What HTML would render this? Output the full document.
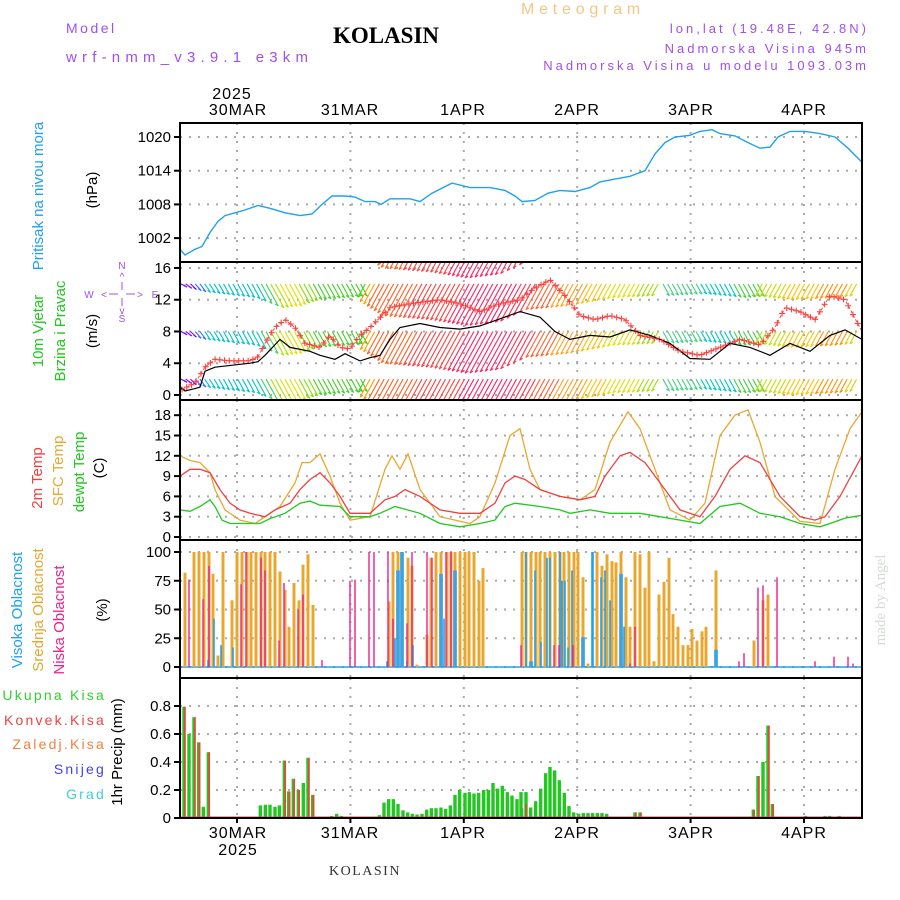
<!DOCTYPE html>
<html><head><meta charset="utf-8"><style>
html,body{margin:0;padding:0;background:#fff;}
svg{display:block;font-family:"Liberation Sans",sans-serif;}
</style></head><body>
<svg id="s" width="900" height="900" xmlns="http://www.w3.org/2000/svg">
<defs>
<clipPath id="c1"><rect x="180" y="123" width="682" height="139"/></clipPath>
<clipPath id="c2"><rect x="180" y="262" width="682" height="138"/></clipPath>
<clipPath id="c3"><rect x="180" y="400" width="682" height="140"/></clipPath>
</defs>
<g id="grid"></g>
<g id="data"></g>
<g fill="none" stroke="#000" stroke-width="2">
<rect x="180" y="123" width="682" height="695"/>
<line x1="180" y1="262" x2="862" y2="262"/>
<line x1="180" y1="400" x2="862" y2="400"/>
<line x1="180" y1="540" x2="862" y2="540"/>
<line x1="180" y1="678" x2="862" y2="678"/>
</g>
<g id="ticks" font-size="15" text-anchor="end"></g>
<!-- header -->
<text x="66" y="33" fill="#a050e8" font-size="14" letter-spacing="2.5">Model</text>
<text x="66" y="62" fill="#a050e8" font-size="15" letter-spacing="5.2">wrf-nmm_v3.9.1 e3km</text>
<text x="386" y="43" font-family="Liberation Serif,serif" font-weight="bold" font-size="23" text-anchor="middle">KOLASIN</text>
<text x="583" y="14" fill="#f0c888" font-size="16" text-anchor="middle" letter-spacing="4.8">Meteogram</text>
<g fill="#a050e8" font-size="13" text-anchor="end" letter-spacing="3">
<text x="869" y="33">lon,lat (19.48E, 42.8N)</text>
<text x="869" y="53">Nadmorska Visina 945m</text>
<text x="869" y="70">Nadmorska Visina u modelu 1093.03m</text>
</g>
<g font-size="16" text-anchor="middle" letter-spacing="1">
<text x="232" y="99">2025</text>
<text x="238" y="115">30MAR</text><text x="350" y="115">31MAR</text><text x="463" y="115">1APR</text><text x="577" y="115">2APR</text><text x="691" y="115">3APR</text><text x="804" y="115">4APR</text>
<text x="238" y="838">30MAR</text><text x="350" y="838">31MAR</text><text x="463" y="838">1APR</text><text x="577" y="838">2APR</text><text x="691" y="838">3APR</text><text x="804" y="838">4APR</text>
<text x="238" y="855">2025</text>
</g>
<text x="365" y="875" font-family="Liberation Serif,serif" font-size="14" fill="#333" text-anchor="middle" letter-spacing="1.5">KOLASIN</text>
<text transform="translate(885,600) rotate(-90)" font-family="Liberation Serif,serif" font-size="15" fill="#d4dcd4" text-anchor="middle">made by Angel</text>
<!-- y labels -->
<g font-size="15" text-anchor="middle">
<text transform="translate(43,196) rotate(-90)" fill="#20a0f0">Pritisak na nivou mora</text>
<text transform="translate(97,190) rotate(-90)">(hPa)</text>
<text transform="translate(43,331) rotate(-90)" fill="#20c820">10m Vjetar</text>
<text transform="translate(65,331) rotate(-90)" fill="#20c820">Brzina i Pravac</text>
<text transform="translate(97,331) rotate(-90)">(m/s)</text>
<text transform="translate(42,478) rotate(-90)" fill="#f04040">2m Temp</text>
<text transform="translate(63,471) rotate(-90)" fill="#e8a830">SFC Temp</text>
<text transform="translate(84,472) rotate(-90)" fill="#20c820">dewpt Temp</text>
<text transform="translate(104,468) rotate(-90)">(C)</text>
<text transform="translate(22,610) rotate(-90)" fill="#20a0f0">Visoka Oblacnost</text>
<text transform="translate(43,610) rotate(-90)" fill="#e8a830">Srednja Oblacnost</text>
<text transform="translate(64,620) rotate(-90)" fill="#f0208a">Niska Oblacnost</text>
<text transform="translate(107,610) rotate(-90)">(%)</text>
<text transform="translate(122,752) rotate(-90)">1hr Precip (mm)</text>
</g>
<g font-size="14" text-anchor="end" letter-spacing="2.2">
<text x="106" y="700" fill="#30d030">Ukupna Kisa</text>
<text x="106" y="725" fill="#f04040">Konvek.Kisa</text>
<text x="106" y="749" fill="#f08040">Zaledj.Kisa</text>
<text x="106" y="774" fill="#4040f0">Snijeg</text>
<text x="106" y="799" fill="#40d0d0">Grad</text>
</g>
<!-- compass -->
<g fill="#a050e8" font-size="10" text-anchor="middle" stroke="none">
<text x="122" y="269">N</text><text x="122" y="322">S</text><text x="89" y="298">W</text><text x="155" y="298">E</text>
<text x="122" y="280">^</text><text x="122" y="314">v</text><text x="104" y="298">&lt;</text><text x="140" y="298">&gt;</text>
</g>
<g stroke="#a050e8" stroke-width="1"><line x1="122" y1="282" x2="122" y2="290"/><line x1="122" y1="298" x2="122" y2="306"/><line x1="109" y1="294" x2="118" y2="294"/><line x1="126" y1="294" x2="135" y2="294"/></g>
</svg>
<script>
var NS="http://www.w3.org/2000/svg";
function el(p,t,a){var e=document.createElementNS(NS,t);for(var k in a)e.setAttribute(k,a[k]);p.appendChild(e);return e;}
var G=document.getElementById('grid'),D=document.getElementById('data'),T=document.getElementById('ticks');
var days=[237,350.4,463.8,577.2,690.6,804];
var gs={stroke:"#aaa","stroke-width":2,"stroke-dasharray":"2,7"};
days.forEach(function(x){[[123,262],[262,400],[400,540],[540,678],[678,818]].forEach(function(r){var a=Object.assign({x1:x,x2:x,y1:r[0],y2:r[1]},gs);el(G,'line',a);});el(T,'line',{x1:x,x2:x,y1:818,y2:823,stroke:"#000","stroke-width":2});});
function hg(y,lab){var a=Object.assign({x1:180,x2:862,y1:y,y2:y},gs);el(G,'line',a);el(T,'line',{x1:174,x2:180,y1:y,y2:y,stroke:"#000","stroke-width":2});var t=el(T,'text',{x:171,y:y+5});t.textContent=lab;}
function yP(v){return 137+(1020-v)*5.617;}
function yW(v){return 395-v*7.94;}
function yT(v){return 537-v*6.767;}
function yC(v){return 667-v*1.15;}
function yR(v){return 818-v*140;}
[1002,1008,1014,1020].forEach(function(v){hg(yP(v),v);});
[0,4,8,12,16].forEach(function(v){hg(yW(v),v);});
[0,3,6,9,12,15,18].forEach(function(v){hg(yT(v),v);});
[0,25,50,75,100].forEach(function(v){hg(yC(v),v);});
[0,0.2,0.4,0.6,0.8].forEach(function(v){hg(yR(v),v===0?"0":v.toFixed(1));});
function pl(pts,f,col,w,clip,dash){var s=pts.map(function(p){return p[0]+","+f(p[1]).toFixed(1);}).join(" ");var a={points:s,fill:"none",stroke:col,"stroke-width":w||1.3,"clip-path":"url(#"+clip+")"};if(dash)a["stroke-dasharray"]=dash;el(D,'polyline',a);}
function interp(k,x){for(var i=0;i<k.length-1;i++){if(x<=k[i+1][0]){var t=(x-k[i][0])/(k[i+1][0]-k[i][0]);return k[i][1]+t*(k[i+1][1]-k[i][1]);}}return k[k.length-1][1];}
// pressure
pl([[180,1000],[185,999],[195,1000],[202,1000.5],[210,1003],[218,1005],[225,1006],[235,1006.5],[245,1007],[258,1007.8],[270,1007.3],[285,1006.5],[300,1006],[312,1006.3],[322,1008],[332,1009.5],[345,1009.5],[355,1009.3],[365,1008.5],[375,1008.5],[381,1008],[390,1009],[410,1009],[420,1008.5],[432,1010],[443,1011],[452,1011.8],[470,1011],[490,1011],[505,1010.5],[515,1009.5],[522,1008.5],[535,1008.7],[548,1010],[560,1010.5],[575,1010.3],[590,1011],[600,1012],[615,1012.5],[630,1013],[645,1014],[655,1017],[665,1019],[675,1020],[690,1020.3],[700,1021],[712,1021.3],[720,1020.6],[735,1020.2],[748,1019],[760,1018],[770,1018.2],[778,1020],[790,1021],[805,1021],[820,1020.6],[835,1020],[848,1018],[862,1015.5]],yP,"#20a0f0",1.4,"c1");
// wind barbs
var colK=[[180,'#8000ff'],[195,'#3070ff'],[200,'#00c0d0'],[250,'#00c8b0'],[258,'#40d060'],[268,'#b0e000'],[280,'#e0e000'],[295,'#80e000'],[310,'#40d020'],[366,'#ffa000'],[378,'#ff6020'],[420,'#ff4040'],[465,'#ff2060'],[520,'#ff3050'],[540,'#ff6030'],[560,'#ffa020'],[590,'#ffc000'],[610,'#e0e000'],[640,'#a0e000'],[662,'#40d080'],[700,'#00c8c0'],[730,'#40d040'],[760,'#c0e000'],[790,'#ffc000'],[820,'#ff9000'],[848,'#e0d000'],[858,'#ffa000']];
function colAt(x){var c=colK[0][1];colK.forEach(function(k){if(x>=k[0])c=k[1];});return c;}
var dyK=[[180,3],[200,8],[250,14],[270,24],[290,22],[310,16],[364,12],[370,18],[400,32],[450,36],[490,42],[520,38],[540,26],[580,22],[620,14],[660,12],[700,10],[740,14],[760,12],[800,16],[840,14],[862,12]];
var bg=el(D,'g',{"clip-path":"url(#c2)","stroke-width":1.1});
for(var h=0;h<144;h++){var x=181+h*4.725;var dy=interp(dyK,x);var sg=(x<365||(x>=660&&x<760))?1:-1;var dx=sg*Math.max(6,dy*0.55);var c=colAt(x);
[20,14,8,2].forEach(function(b){var y=yW(b);el(bg,'line',{x1:x,y1:y,x2:x+dx,y2:y+dy,stroke:c});el(bg,'line',{x1:x+dx,y1:y+dy,x2:x+dx-sg*3,y2:y+dy-2,stroke:c});});}
// speed & gust
pl([[180,1],[185,0.5],[195,0.8],[200,1],[205,3],[215,3.5],[250,4],[258,4.2],[265,5],[280,7],[290,6],[310,5.5],[320,5],[335,4.5],[345,5.2],[360,4.3],[370,4.7],[380,5],[390,7],[400,8.5],[420,9],[440,8.5],[460,8.3],[480,8.7],[500,9.6],[520,10.5],[540,9.8],[555,8],[570,7],[590,7.5],[610,7.3],[630,8.2],[650,7.5],[670,6.5],[690,4.6],[710,4.5],[730,6.5],[750,6],[770,5],[790,6.5],[810,5.5],[830,7.5],[845,8.2],[862,7]],yW,"#000",1.2,"c2");
var gust=[[182,0.7],[195,1.5],[205,3.5],[215,4.5],[230,4.3],[250,4.3],[258,4.8],[265,6.5],[275,8.5],[285,9.5],[295,8.5],[305,6.5],[320,6],[330,7.5],[340,6],[350,5.8],[360,7.5],[370,8.5],[378,9.5],[390,11],[410,11.5],[440,12],[460,11.5],[480,10.5],[500,11.5],[520,12],[535,13.5],[550,14.5],[565,12.5],[580,10],[595,9.5],[610,10],[625,9.5],[640,7.5],[660,7],[680,5.5],[700,5],[720,6],[740,7],[760,6.3],[775,8.5],[785,11],[800,10.5],[815,9.5],[830,12.5],[845,12],[862,8]];
pl(gust,yW,"#ff4040",1,"c2","3,2");
for(var h=0;h<144;h+=1){var x=182+h*4.725;var y=yW(interp(gust,x));el(bg,'path',{d:"M"+(x-3)+","+y+"h6M"+x+","+(y-3)+"v6",stroke:"#ff4040"});}
// temps
pl([[180,12],[190,11.3],[200,11],[210,9.5],[215,7],[225,4],[240,2.5],[255,2],[265,3],[280,4.5],[295,8],[302,11],[310,11],[320,12.3],[330,9],[340,5],[350,2.5],[370,3],[385,10],[392,12],[400,10],[408,12.3],[420,7],[440,3],[470,2],[480,3],[495,8],[510,15],[520,16],[530,10],[540,7],[560,6],[580,5.5],[595,7],[610,14],[628,18.5],[640,16],[655,10],[670,4],[690,2.5],[705,5],[720,15],[735,18],[748,18.8],[760,14],[775,6],[800,2.3],[820,2],[835,10],[850,16],[862,18.5]],yT,"#e8a830",1.3,"c3");
pl([[180,9],[190,10],[200,10],[210,9.5],[220,7],[230,5],[240,4],[250,3.5],[265,3],[275,4],[290,5],[300,7],[310,8.5],[320,9.5],[330,8],[340,6],[350,3.5],[370,3.5],[385,5.5],[395,6],[405,7],[420,6],[440,4],[460,3.5],[480,3.5],[495,5],[505,8],[515,9],[525,8.5],[540,7],[560,6],[580,5.5],[595,6],[605,9],[620,12],[630,12.5],[645,11],[660,8],[680,4],[700,3],[715,6],[730,10],[745,12],[760,11],[780,6],[800,3],[815,2.5],[825,3],[840,6],[862,12]],yT,"#f04040",1.3,"c3");
pl([[180,4],[190,3.8],[200,4.5],[210,5.5],[215,4.5],[222,2.5],[230,2],[245,2],[260,2],[270,2.7],[285,3.5],[300,5],[310,5.3],[320,4.7],[340,4.5],[350,3],[370,3],[380,3.5],[395,4.5],[420,3.5],[440,2],[460,1.5],[480,2],[495,2.5],[505,4.5],[515,5],[540,4.5],[560,4],[570,3.5],[590,4],[610,3.5],[640,3.5],[660,3],[680,2.5],[700,2],[720,4.5],[740,5],[760,3.5],[780,3],[800,2],[820,1.5],[830,2],[845,2.8],[862,3.2]],yT,"#20c820",1.3,"c3");
// clouds
el(D,'line',{x1:180,x2:862,y1:667,y2:667,stroke:"#20a0f0","stroke-width":1.5});
var orng=[[185,82],[194,100],[199,100],[204,100],[209,100],[213,81],[218,10],[223,100],[232,58],[237,100],[242,100],[247,100],[251,100],[256,100],[261,100],[265,100],[270,100],[275,100],[280,83],[285,67],[289,35],[294,73],[299,58],[303,89],[308,98],[313,54],[389,57],[393,100],[398,100],[402,100],[408,95],[412,88],[417,2],[427,28],[431,95],[436,100],[441,100],[447,100],[451,100],[455,100],[460,100],[465,100],[469,100],[474,100],[479,75],[483,86],[522,100],[526,100],[531,100],[536,100],[540,100],[545,100],[550,100],[555,100],[560,100],[564,100],[569,100],[574,100],[578,100],[583,78],[588,3],[597,100],[602,88],[607,98],[612,92],[616,91],[621,100],[626,78],[630,35],[635,100],[640,98],[645,69],[649,100],[654,5],[659,63],[664,74],[669,95],[673,46],[678,35],[683,19],[688,19],[692,33],[697,23],[702,31],[706,35],[716,84],[754,23],[763,58],[768,63]];
orng.forEach(function(b){el(D,'rect',{x:b[0]-1.5,y:yC(b[1]),width:3,height:b[1]*1.15,fill:"#e8a830"});});
var blue=[[208,6],[214,42],[221,19],[233,17],[387,5],[395,25],[397,84],[399,84],[401,100],[403,100],[407,5],[413,19],[440,81],[442,81],[444,42],[454,84],[456,84],[526,100],[530,5],[532,5],[535,84],[541,22],[547,95],[550,95],[560,100],[562,75],[565,75],[568,17],[572,84],[582,26],[584,26],[592,100],[593,100],[601,78],[605,84],[610,58],[620,81],[622,81],[624,35],[715,15],[717,15]];
blue.forEach(function(b){el(D,'rect',{x:b[0]-0.8,y:yC(b[1]),width:1.6,height:b[1]*1.15,fill:"#20a0f0"});});
var pink=[[189,76],[203,59],[209,88],[241,72],[246,100],[261,95],[265,84],[279,23],[284,73],[298,50],[303,63],[322,6],[350,75],[355,76],[369,100],[374,100],[388,100],[393,42],[407,38],[412,100],[427,100],[432,95],[446,100],[451,100],[521,19],[554,19],[559,19],[573,19],[630,3],[635,35],[739,5],[744,12],[758,69],[763,71],[777,78],[815,5],[834,9],[848,9],[853,3]];
pink.forEach(function(b){el(D,'rect',{x:b[0]-0.7,y:yC(b[1]),width:1.4,height:b[1]*1.15,fill:"#f0208a"});});
var p5=[[12,.795,1],[27,.6,0],[42,.72,1],[56,.54,1],[70,.08,0],[85,.47,1],[227,.01,0],[241,.09,0],[256,.095,0],[270,.095,0],[285,.08,0],[298,.09,0],[313,.41,1],[326,.19,1],[340,.28,1],[355,.2,1],[370,.25,0],[384,.43,1],[398,.165,1],[455,.015,0],[470,.03,0],[484,.015,0],[555,.01,0],[568,.01,0],[583,.01,0],[598,.02,0],[612,.11,0],[626,.135,0],[640,.135,0],[654,.1,0],[669,.055,0],[683,.04,0],[697,.03,0],[711,.025,0],[726,.03,0],[740,.06,0],[754,.07,0],[768,.07,0],[783,.075,0],[797,.065,0],[811,.09,0],[825,.165,0],[839,.2,0],[855,.18,0],[868,.185,0],[882,.175,0],[896,.18,0],[911,.2,0],[925,.2,0],[939,.25,0],[953,.21,0],[967,.23,0],[982,.185,0],[996,.16,0],[1011,.135,0],[1025,.07,0]];
var p6=[[18,.185,0],[32,.075,0],[47,.12,0],[62,.21,0],[77,.32,0],[90,.365,0],[104,.34,0],[118,.27,0],[133,.18,0],[147,.085,0],[161,.04,0],[176,.03,0],[190,.035,0],[204,.035,0],[218,.035,0],[232,.035,0],[246,.035,0],[260,.03,0],[275,.01,0],[345,.04,1],[360,.04,1],[402,.01,1],[700,.06,1],[714,.3,1],[729,.4,0],[744,.66,1],[757,.1,1],[843,.01,0],[857,.015,0],[886,.01,0],[901,.01,0],[915,.015,0],[929,.015,0],[944,.01,0],[958,.015,0],[972,.01,0]];
function bar(x,v,r){el(D,'rect',{x:x-1.7,y:yR(v),width:3.4,height:v*140,fill:"#20c820"});if(r)el(D,'rect',{x:x,y:yR(v),width:1.7,height:v*140,fill:"#f04040"});}
p5.forEach(function(b){bar(180+b[0]/3,b[1],b[2]);});
p6.forEach(function(b){bar(520+b[0]/3,b[1],b[2]);});
bar(521,.185,0);el(D,'rect',{x:525,y:yR(.1),width:1.7,height:14,fill:"#f04040"});
el(D,'line',{x1:180,x2:862,y1:817,y2:817,stroke:"#f04040","stroke-width":1});
</script>
</body></html>
